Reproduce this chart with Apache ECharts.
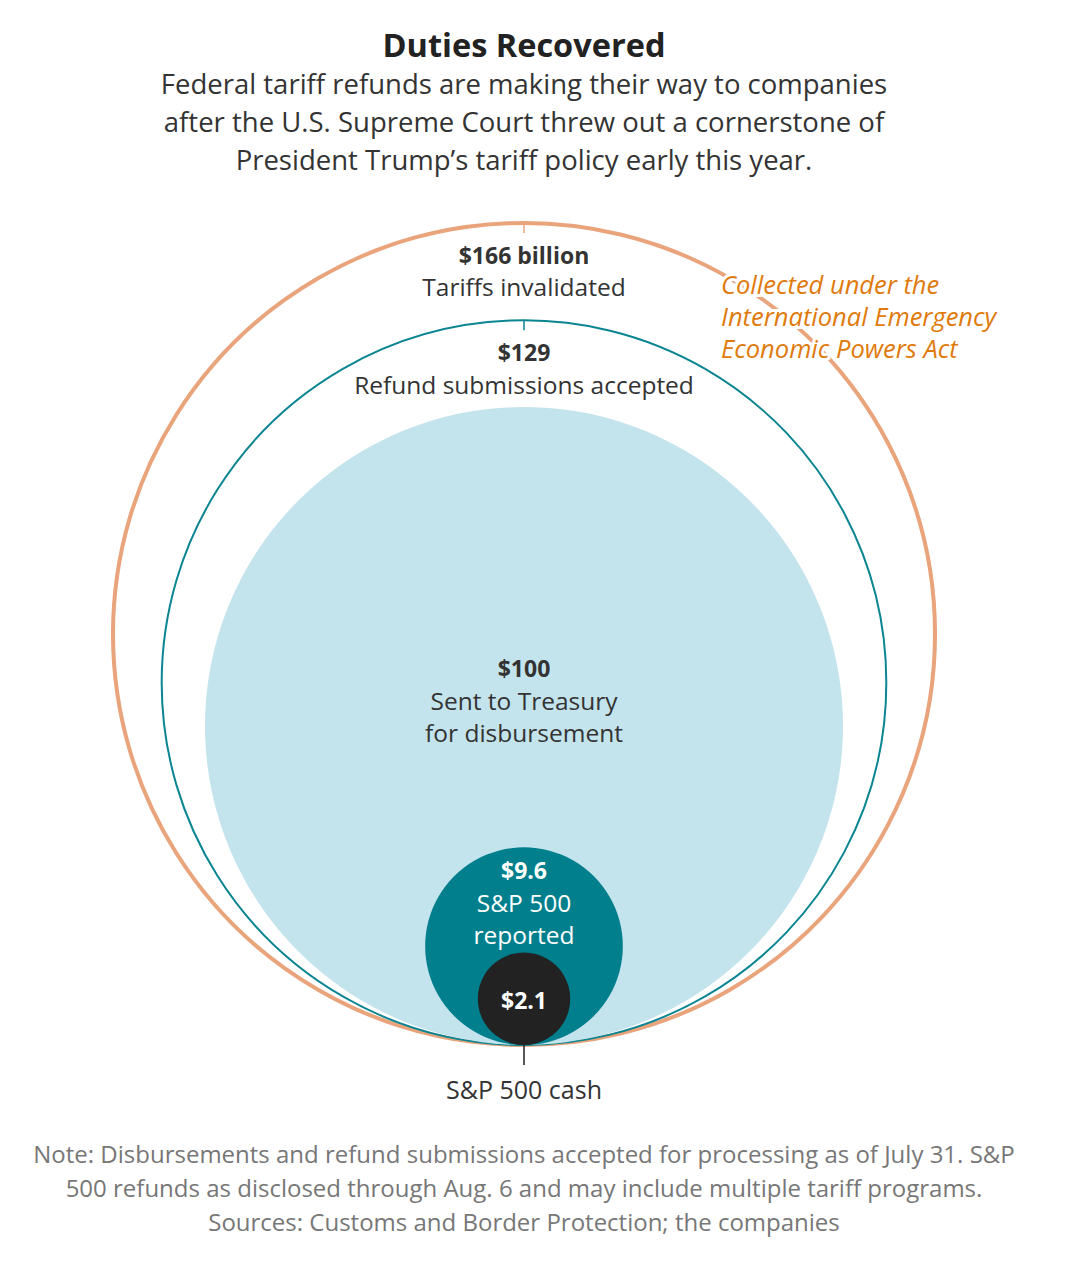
<!DOCTYPE html>
<html>
<head>
<meta charset="utf-8">
<script src="https://cdn.jsdelivr.net/npm/echarts@6/dist/echarts.min.js"></script>
<style>
  html, body { margin: 0; padding: 0; background: #fff; }
  #chart { width: 1070px; height: 1278px; }
</style>
</head>
<body>
<div id="chart"></div>
<script>
// values in $ billions, circle area is proportional to the value
var values = [166, 129, 100, 9.6, 2.1];
var amounts = ['$166 billion', '$129', '$100', '$9.6', '$2.1'];
var descriptions = ['Tariffs invalidated', 'Refund submissions accepted', 'Sent to Treasury\nfor disbursement', 'S&P 500\nreported', ''];
var footLabel = 'S&P 500 cash';
var annotation = ['Collected under the', 'International Emergency', 'Economic Powers Act'];

var titleText = 'Duties Recovered';
var subtitleLines = [
  'Federal tariff refunds are making their way to companies',
  'after the U.S. Supreme Court threw out a cornerstone of',
  'President Trump\u2019s tariff policy early this year.'
];
var noteLines = [
  'Note: Disbursements and refund submissions accepted for processing as of July 31. S&P',
  '500 refunds as disclosed through Aug. 6 and may include multiple tariff programs.',
  'Sources: Customs and Border Protection; the companies'
];

var FONT = '"Open Sans", "Noto Sans", sans-serif';

// look of each circle
var looks = [
  { fill: '#fff', stroke: '#E9A47C', lw: 4, text: '#333', tick: '#E9A47C' },
  { fill: 'none', stroke: '#0A8591', lw: 2, text: '#333', tick: '#0A8591' },
  { fill: '#C4E4ED', stroke: null, lw: 0, text: '#333' },
  { fill: '#017F8D', stroke: null, lw: 0, text: '#fff' },
  { fill: '#222222', stroke: null, lw: 0, text: '#fff', foot: true }
];
// where the label sits: 'top' = offset from top of circle, 'center' = offset from centre
var labelAt = [
  { from: 'top', dy: 32 },
  { from: 'top', dy: 32 },
  { from: 'center', dy: -58 },
  { from: 'top', dy: 23 },
  { from: 'center', dy: 1 }
];

var chart = echarts.init(document.getElementById('chart'), null, { renderer: 'svg' });

function renderItem(params, api) {
  var i = params.dataIndex;
  var r = Math.sqrt(api.value(0));
  var c = api.coord([0, r]);
  var rp = api.size([r, r])[0];
  var look = looks[i];
  var top = c[1] - rp;
  var kids = [{
    type: 'circle',
    shape: { cx: c[0], cy: c[1], r: rp },
    style: { fill: look.fill, stroke: look.stroke, lineWidth: look.lw }
  }];
  if (look.tick) {
    kids.push({
      type: 'line',
      shape: { x1: c[0], y1: top, x2: c[0], y2: top + 10 },
      style: { stroke: look.tick, lineWidth: 1.5 }
    });
  }
  var at = labelAt[i];
  var y0 = (at.from === 'top' ? top : c[1]) + at.dy;
  kids.push({
    type: 'text',
    style: {
      text: amounts[i], x: c[0], y: y0, align: 'center', verticalAlign: 'middle',
      font: 'bold 23px ' + FONT, fill: look.text
    }
  });
  if (descriptions[i]) {
    kids.push({
      type: 'text',
      style: {
        text: descriptions[i], x: c[0], y: y0 + 16, align: 'center', verticalAlign: 'top',
        font: '24.5px ' + FONT, fill: look.text, lineHeight: 32
      }
    });
  }
  if (look.foot) {
    var bottom = c[1] + rp;
    kids.push({
      type: 'line',
      shape: { x1: c[0], y1: bottom, x2: c[0], y2: bottom + 20 },
      style: { stroke: '#222', lineWidth: 1.5 }
    });
    kids.push({
      type: 'text',
      style: {
        text: footLabel, x: c[0], y: bottom + 44, align: 'center', verticalAlign: 'middle',
        font: '25px ' + FONT, fill: '#333'
      }
    });
  }
  return { type: 'group', children: kids };
}

var scale = 31.9;      // pixels per unit of sqrt(value)
var baseY = 1045;      // common tangent point at the bottom
var centerX = 524;
var xHalf = 16, yMax = 26;

var annText = annotation.join('\n');
var annStyle = { text: annText, x: 721, y: 268, font: 'italic 25.5px ' + FONT, lineHeight: 32, verticalAlign: 'top' };

chart.setOption({
  backgroundColor: '#fff',
  animation: false,
  grid: {
    left: centerX - xHalf * scale,
    width: 2 * xHalf * scale,
    top: baseY - yMax * scale,
    height: yMax * scale
  },
  xAxis: { type: 'value', min: -xHalf, max: xHalf, show: false },
  yAxis: { type: 'value', min: 0, max: yMax, show: false },
  series: [{
    type: 'custom',
    renderItem: renderItem,
    data: values.map(function (v) { return [v]; }),
    encode: { x: -1, y: -1 },
    silent: true
  }],
  graphic: [
    {
      type: 'text', z: 10,
      style: { text: titleText, x: 524, y: 44, align: 'center', verticalAlign: 'middle', font: 'bold 32.5px ' + FONT, fill: '#222' }
    },
    {
      type: 'text', z: 10,
      style: { text: subtitleLines.join('\n'), x: 524, y: 64, align: 'center', verticalAlign: 'top', font: '27.5px ' + FONT, fill: '#333', lineHeight: 38 }
    },
    {
      type: 'text', z: 10,
      style: Object.assign({}, annStyle, { fill: '#fff', stroke: '#fff', lineWidth: 6 })
    },
    {
      type: 'text', z: 11,
      style: Object.assign({}, annStyle, { fill: '#E07A0C' })
    },
    {
      type: 'text', z: 10,
      style: { text: noteLines.join('\n'), x: 524, y: 1136, align: 'center', verticalAlign: 'top', font: '24px ' + FONT, fill: '#777', lineHeight: 34 }
    }
  ]
});
</script>
</body>
</html>
